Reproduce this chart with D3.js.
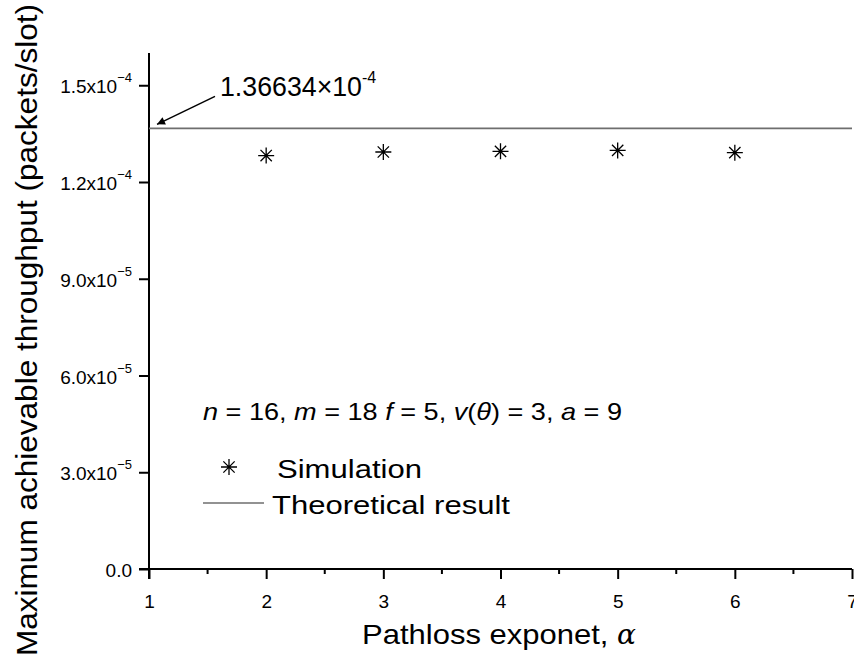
<!DOCTYPE html>
<html>
<head>
<meta charset="utf-8">
<script src="https://cdn.jsdelivr.net/npm/d3@7"></script>
<style>
  html, body { margin: 0; padding: 0; background: #fff; }
  svg text { font-family: "Liberation Sans", Arial, sans-serif; fill: #000; }
</style>
</head>
<body>
<svg id="chart" width="854" height="665"></svg>
<script>
// Path-loss exponent values where the simulation was run
const alphaValues = [2, 3, 4, 5, 6];
// Simulated maximum achievable throughput (packets/slot)
const simThroughput = [1.282e-4, 1.293e-4, 1.295e-4, 1.298e-4, 1.291e-4];
// Theoretical throughput (constant over alpha)
const theoryThroughput = 1.36634e-4;
// Axis ticks
const xTicks = [1, 2, 3, 4, 5, 6, 7];
const xMinorTicks = [1.5, 2.5, 3.5, 4.5, 5.5, 6.5];
const yTicks = [0, 3.0e-5, 6.0e-5, 9.0e-5, 1.2e-4, 1.5e-4];
const yTickMantissa = ["0.0", "3.0", "6.0", "9.0", "1.2", "1.5"];
const yTickExponent = [null, "-5", "-5", "-5", "-4", "-4"];

const svg = d3.select("#chart");
const plotLeft = 149, plotRight = 852, plotTop = 53, plotBottom = 569;

const x = d3.scaleLinear().domain([1, 7]).range([plotLeft, plotRight]);
const y = d3.scaleLinear().domain([0, 1.6e-4]).range([plotBottom, plotTop]);

// X axis with major and minor ticks
const xAxis = d3.axisBottom(x).tickValues(xTicks).tickSize(10).tickSizeOuter(0).tickFormat(d3.format("d"));
const gx = svg.append("g").attr("transform", `translate(0,${plotBottom})`).call(xAxis);
gx.select(".domain").attr("stroke-width", 2).attr("d", `M${plotLeft - 10},0H${plotRight}`);
gx.selectAll(".tick line").attr("stroke-width", 2);
gx.selectAll(".tick text").attr("font-size", 19).attr("y", 0).attr("dy", 0)
  .attr("transform", "translate(0,39)")
  .attr("font-family", "Liberation Sans, Arial, sans-serif").attr("fill", "#000");
gx.selectAll(".minor").data(xMinorTicks).enter().append("line")
  .attr("x1", d => x(d)).attr("x2", d => x(d)).attr("y1", 0).attr("y2", 5)
  .attr("stroke", "#000").attr("stroke-width", 2);

// Y axis; labels written with a superscript exponent
const yAxis = d3.axisLeft(y).tickValues(yTicks).tickSize(10).tickSizeOuter(0).tickFormat("");
const gy = svg.append("g").attr("transform", `translate(${plotLeft},0)`).call(yAxis);
gy.select(".domain").attr("stroke-width", 2).attr("d", `M0,${plotBottom + 10}V${plotTop}`);
gy.selectAll(".tick line").attr("stroke-width", 2);

yTicks.forEach((v, i) => {
  const t = svg.append("text").attr("text-anchor", "end")
    .attr("x", plotLeft - 17).attr("y", y(v) + 8).attr("font-size", 19);
  if (yTickExponent[i]) {
    t.append("tspan").text(yTickMantissa[i] + "x10");
    t.append("tspan").attr("font-size", 13).attr("dy", -11).text(yTickExponent[i].replace("-", "\u2212"));
  } else {
    t.text(yTickMantissa[i]);
  }
});

// Theoretical result line
svg.append("line")
  .attr("x1", x(1)).attr("x2", x(7))
  .attr("y1", y(theoryThroughput)).attr("y2", y(theoryThroughput))
  .attr("stroke", "#6e6e6e").attr("stroke-width", 1.6);

// Eight-armed star marker
function starPath(r) {
  const d = r * Math.SQRT1_2;
  return `M${-r},0H${r}M0,${-r}V${r}M${-d},${-d}L${d},${d}M${-d},${d}L${d},${-d}`;
}

svg.append("g").selectAll("path")
  .data(alphaValues.map((a, i) => [a, simThroughput[i]]))
  .enter().append("path")
  .attr("transform", d => `translate(${x(d[0])},${y(d[1])})`)
  .attr("d", starPath(8))
  .attr("fill", "none").attr("stroke", "#000").attr("stroke-width", 1.3);

// Annotation of the theoretical value, with arrow
svg.append("defs").append("marker")
  .attr("id", "arrowhead").attr("viewBox", "0 0 10 10")
  .attr("refX", 10).attr("refY", 5)
  .attr("markerWidth", 11).attr("markerHeight", 8)
  .attr("markerUnits", "userSpaceOnUse")
  .attr("orient", "auto")
  .append("path").attr("d", "M0,0L10,5L0,10Z").attr("fill", "#000");

const yTheory = y(theoryThroughput);
svg.append("line")
  .attr("x1", 215).attr("y1", yTheory - 32)
  .attr("x2", 157).attr("y2", yTheory - 4)
  .attr("stroke", "#000").attr("stroke-width", 1.5)
  .attr("marker-end", "url(#arrowhead)");

const ann = svg.append("text").attr("x", 220).attr("y", 96).attr("font-size", 27);
ann.append("tspan").attr("textLength", 142).attr("lengthAdjust", "spacingAndGlyphs").text("1.36634\u00d710");
ann.append("tspan").attr("font-size", 16).attr("dy", -13).text("-4");

// Parameter description
const params = svg.append("text").attr("x", 203).attr("y", 420).attr("font-size", 24)
  .attr("textLength", 419).attr("lengthAdjust", "spacingAndGlyphs");
[
  ["n", true], [" = 16, ", false], ["m", true], [" = 18 ", false], ["f", true],
  [" = 5, ", false], ["v", true], ["(", false], ["\u03b8", true], [") = 3, ", false],
  ["a", true], [" = 9", false]
].forEach(([s, it]) => {
  params.append("tspan").attr("font-style", it ? "italic" : "normal").text(s);
});

// Legend
svg.append("path").attr("transform", "translate(229,467)").attr("d", starPath(8))
  .attr("fill", "none").attr("stroke", "#000").attr("stroke-width", 1.3);
svg.append("text").attr("x", 277).attr("y", 478).attr("font-size", 26)
  .attr("textLength", 145).attr("lengthAdjust", "spacingAndGlyphs").text("Simulation");
svg.append("line").attr("x1", 203).attr("x2", 264).attr("y1", 503).attr("y2", 503)
  .attr("stroke", "#6e6e6e").attr("stroke-width", 1.6);
svg.append("text").attr("x", 272).attr("y", 514).attr("font-size", 26)
  .attr("textLength", 238).attr("lengthAdjust", "spacingAndGlyphs").text("Theoretical result");

// Axis titles
const xt = svg.append("text").attr("x", 362).attr("y", 644).attr("font-size", 28);
xt.append("tspan").attr("textLength", 255).attr("lengthAdjust", "spacingAndGlyphs").text("Pathloss exponet, ");
xt.append("tspan").attr("font-style", "italic").attr("font-family", "DejaVu Serif, serif").text("\u03b1");

svg.append("text")
  .attr("transform", "translate(37,330) rotate(-90)")
  .attr("text-anchor", "middle").attr("font-size", 30)
  .attr("textLength", 652).attr("lengthAdjust", "spacingAndGlyphs")
  .text("Maximum achievable throughput (packets/slot)");
</script>
</body>
</html>
